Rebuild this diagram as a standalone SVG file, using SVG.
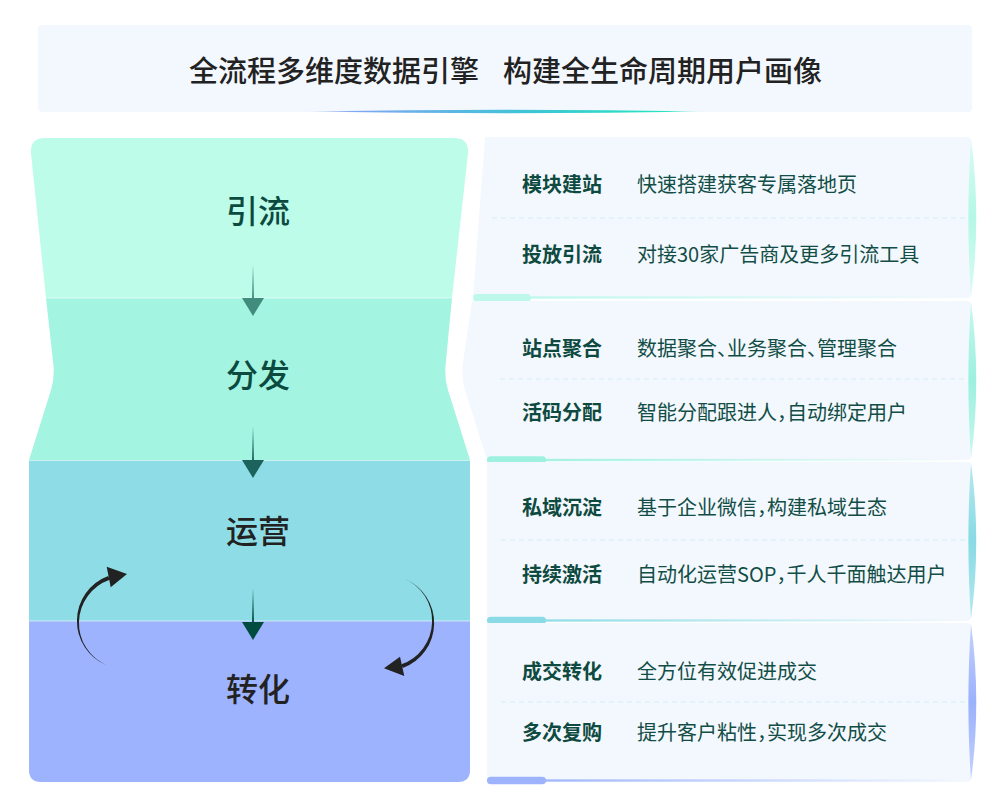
<svg xmlns="http://www.w3.org/2000/svg" width="1005" height="810" viewBox="0 0 1005 810">
<defs>
<style>
.t{font-family:"Noto Sans CJK SC","Noto Sans",sans-serif}
.stage{font-size:32px;font-weight:500;text-anchor:middle}
.lab{font-size:20px;font-weight:700;fill:#0E4A40}
.desc{font-size:20px;font-weight:400;fill:#124E46;font-feature-settings:"halt" 1}
.panel{fill:#F3F8FE}
.dash{stroke:#D4EDEF;stroke-width:1.2;stroke-dasharray:5 4;fill:none}
</style>
<linearGradient id="tl" x1="0" y1="0" x2="1" y2="0">
<stop offset="0" stop-color="#8EA7F6" stop-opacity="0.3"/>
<stop offset="0.12" stop-color="#7FA6F3"/>
<stop offset="0.55" stop-color="#3FC4D6"/>
<stop offset="0.9" stop-color="#25E4BE"/>
<stop offset="1" stop-color="#25E4BE" stop-opacity="0"/>
</linearGradient>
<linearGradient id="a1" x1="0" y1="0" x2="0" y2="1"><stop offset="0" stop-color="#428C7E" stop-opacity="0"/><stop offset="1" stop-color="#428C7E"/></linearGradient>
<linearGradient id="a2" x1="0" y1="0" x2="0" y2="1"><stop offset="0" stop-color="#1D635D" stop-opacity="0"/><stop offset="1" stop-color="#1D635D"/></linearGradient>
<linearGradient id="a3" x1="0" y1="0" x2="0" y2="1"><stop offset="0" stop-color="#024B3F" stop-opacity="0"/><stop offset="1" stop-color="#024B3F"/></linearGradient>
<linearGradient id="l1" x1="0" y1="0" x2="1" y2="0"><stop offset="0" stop-color="#BDF8EB"/><stop offset="1" stop-color="#BDF8EB" stop-opacity="0"/></linearGradient>
<linearGradient id="l2" x1="0" y1="0" x2="1" y2="0"><stop offset="0" stop-color="#9EF0DF"/><stop offset="1" stop-color="#9EF0DF" stop-opacity="0"/></linearGradient>
<linearGradient id="l3" x1="0" y1="0" x2="1" y2="0"><stop offset="0" stop-color="#8ADBE5"/><stop offset="1" stop-color="#8ADBE5" stop-opacity="0"/></linearGradient>
<linearGradient id="l4" x1="0" y1="0" x2="1" y2="0"><stop offset="0" stop-color="#9DB3FD"/><stop offset="1" stop-color="#9DB3FD" stop-opacity="0"/></linearGradient>
<linearGradient id="r1" x1="0" y1="0" x2="0" y2="1"><stop offset="0" stop-color="#D8FCF2"/><stop offset="0.5" stop-color="#B4F7E6"/><stop offset="1" stop-color="#D8FCF2"/></linearGradient>
<linearGradient id="r2" x1="0" y1="0" x2="0" y2="1"><stop offset="0" stop-color="#C6F8EE"/><stop offset="0.5" stop-color="#9CF0DE"/><stop offset="1" stop-color="#C6F8EE"/></linearGradient>
<linearGradient id="r3" x1="0" y1="0" x2="0" y2="1"><stop offset="0" stop-color="#B5E9EF"/><stop offset="0.5" stop-color="#88DAE4"/><stop offset="1" stop-color="#B5E9EF"/></linearGradient>
<linearGradient id="r4" x1="0" y1="0" x2="0" y2="1"><stop offset="0" stop-color="#C4D1FD"/><stop offset="0.5" stop-color="#9AB1FC"/><stop offset="1" stop-color="#C4D1FD"/></linearGradient>
</defs>
<rect width="1005" height="810" fill="#FFFFFF"/>

<g id="title">
<rect x="38" y="25" width="934" height="87" rx="4" fill="#F3F8FE"/>
<path d="M306,111.5 Q506,108 706,111.5 Q506,115 306,111.5 Z" fill="url(#tl)"/>
<text class="t" y="81.5" font-size="29" font-weight="500" fill="#222222"><tspan x="189">全流程多维度数据引擎</tspan><tspan x="503">构建全生命周期用户画像</tspan></text>
</g>

<g id="funnel">
<g id="stage-yinliu">
<path d="M46,298 L31,153 Q30,138 45,138 L454,138 Q469,138 468,153 L452,298 Z" fill="#BDFCE9"/>
<text class="t stage" x="258" y="222.6" fill="#0C4A40">引流</text>
</g>
<g id="stage-fenfa">
<path d="M46,298 L452,298 L445.5,366 Q444.5,379 448,390 L470,460 L29,460 L51,390 Q54.5,379 53.5,366 Z" fill="#A3F5E2"/>
<text class="t stage" x="258" y="387" fill="#0C4A40">分发</text>
</g>
<g id="stage-yunying">
<rect x="29" y="460" width="441" height="161" fill="#8EDDE6"/>
<text class="t stage" x="258" y="542.6" fill="#222222">运营</text>
</g>
<g id="stage-zhuanhua">
<path d="M29,621 L470,621 L470,770 Q470,782 458,782 L41,782 Q29,782 29,770 Z" fill="#9DB3FD"/>
<text class="t stage" x="258" y="700.6" fill="#222222">转化</text>
</g>
<g stroke="#FFFFFF" stroke-opacity="0.55" stroke-width="1">
<line x1="46" y1="298" x2="452" y2="298"/>
<line x1="29" y1="460.5" x2="470" y2="460.5"/>
<line x1="29" y1="621" x2="470" y2="621"/>
</g>
</g>

<g id="connectors">
<rect x="252" y="264" width="2" height="36" fill="url(#a1)"/>
<polygon points="242,298 264,298 253,316" fill="#428C7E"/>
<rect x="252" y="426" width="2" height="36" fill="url(#a2)"/>
<polygon points="242,460 264,460 253,478" fill="#1D635D"/>
<rect x="252" y="588" width="2" height="36" fill="url(#a3)"/>
<polygon points="242,622 264,622 253,640" fill="#024B3F"/>
<path d="M107,665.4 A48,48 0 0 1 108.2,575.9 L109.6,579.7 A46,46 0 0 0 107,665.4 Z" fill="#222222"/>
<polygon points="106.7,566.7 127,574 110.7,587.3" fill="#222222"/>
<path d="M404.4,578.7 A48,48 0 0 1 402.8,668.1 L401.4,664.3 A46,46 0 0 0 404.4,578.7 Z" fill="#222222"/>
<polygon points="384,668.3 400,656.7 404.3,676" fill="#222222"/>
</g>

<g id="panel-1">
<path class="panel" d="M485,137 L967,137 Q971,137 971,141 L971,294 Q971,298 967,298 L473,298 Z"/>
<path d="M971,139 C967.5,190 967.5,246 971,296 C978,246 978,190 971,139 Z" fill="url(#r1)"/>
<line class="dash" x1="492" y1="218" x2="968" y2="218"/>
<rect x="500" y="296.3" width="462" height="2.4" fill="url(#l1)"/>
<rect x="473" y="294" width="58" height="7.5" rx="3.75" fill="#BDF8EB"/>
<text class="t lab" x="522" y="191.6">模块建站</text>
<text class="t desc" x="637" y="191.6">快速搭建获客专属落地页</text>
<text class="t lab" x="522" y="261.6">投放引流</text>
<text class="t desc" x="637" y="261.6">对接30家广告商及更多引流工具</text>
</g>

<g id="panel-2">
<path class="panel" d="M472,301 L967,301 Q971,301 971,305 L971,456 Q971,460 967,460 L487,460 L465,390 Q461.5,379 462.5,366 Z"/>
<path d="M971,302 C967.5,352 967.5,408 971,458 C978,408 978,352 971,302 Z" fill="url(#r2)"/>
<line class="dash" x1="500" y1="379" x2="968" y2="379"/>
<rect x="510" y="458.8" width="452" height="2.4" fill="url(#l2)"/>
<rect x="487" y="456.3" width="59" height="7.5" rx="3.75" fill="#9EF0DF"/>
<text class="t lab" x="522" y="355.6">站点聚合</text>
<text class="t desc" x="637" y="355.6">数据聚合、业务聚合、管理聚合</text>
<text class="t lab" x="522" y="419.6">活码分配</text>
<text class="t desc" x="637" y="419.6">智能分配跟进人，自动绑定用户</text>
</g>

<g id="panel-3">
<path class="panel" d="M487,462 L967,462 Q971,462 971,466 L971,617 Q971,621 967,621 L487,621 Z"/>
<path d="M971,463 C967.5,513 967.5,569 971,619 C978,569 978,513 971,463 Z" fill="url(#r3)"/>
<line class="dash" x1="501" y1="540" x2="968" y2="540"/>
<rect x="510" y="619.3" width="452" height="2.4" fill="url(#l3)"/>
<rect x="487" y="616.8" width="59" height="7.5" rx="3.75" fill="#8ADBE5"/>
<text class="t lab" x="522" y="514.6">私域沉淀</text>
<text class="t desc" x="637" y="514.6">基于企业微信，构建私域生态</text>
<text class="t lab" x="522" y="581.6">持续激活</text>
<text class="t desc" x="637" y="581.6">自动化运营SOP，千人千面触达用户</text>
</g>

<g id="panel-4">
<path class="panel" d="M487,623 L967,623 Q971,623 971,627 L971,778 Q971,782 967,782 L487,782 Z"/>
<path d="M971,624 C967.5,674 967.5,730 971,780 C978,730 978,674 971,624 Z" fill="url(#r4)"/>
<line class="dash" x1="501" y1="702" x2="968" y2="702"/>
<rect x="510" y="779.3" width="452" height="2.4" fill="url(#l4)"/>
<rect x="487" y="776.8" width="59" height="7.5" rx="3.75" fill="#9DB3FD"/>
<text class="t lab" x="522" y="678.6">成交转化</text>
<text class="t desc" x="637" y="678.6">全方位有效促进成交</text>
<text class="t lab" x="522" y="739.6">多次复购</text>
<text class="t desc" x="637" y="739.6">提升客户粘性，实现多次成交</text>
</g>
</svg>
